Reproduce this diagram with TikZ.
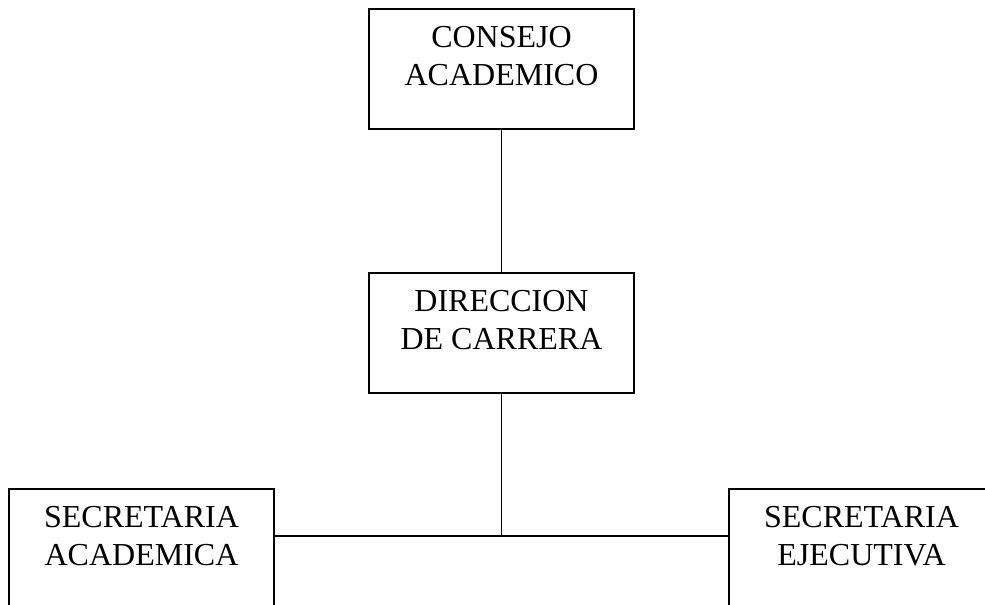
\documentclass[tikz,border=0pt]{standalone}
\usepackage{fontspec}
\setmainfont{Liberation Serif}
\usepackage{tikz}

\tikzset{
  orgbox/.style={rectangle, draw, line width=1.2pt, inner sep=0pt, anchor=north,
    minimum width=198.75pt, text height=57.75pt, text depth=32.25pt, align=center,
    font=\fontsize{24pt}{28.5pt}\selectfont}
}

\begin{document}
\begin{tikzpicture}[x=0.75pt, y=-0.75pt]
  \clip (0,0) rectangle (985,605);
  \node (consejo) [orgbox] at (501.5,8) {CONSEJO\\ACADEMICO};
  \node (direccion) [orgbox] at (501.5,272) {DIRECCION\\DE CARRERA};
  \node (secacad) [orgbox] at (141.5,488) {SECRETARIA\\ACADEMICA};
  \node (secejec) [orgbox] at (861.5,488) {SECRETARIA\\EJECUTIVA};
  \coordinate (bus) at (501.5,536);
  \draw[line width=1.2pt] (consejo) -- (direccion);
  \draw[line width=1.2pt] (direccion) -- (bus);
  \draw[line width=1.2pt] (secacad.east |- bus) -- (secejec.west |- bus);
\end{tikzpicture}
\end{document}
